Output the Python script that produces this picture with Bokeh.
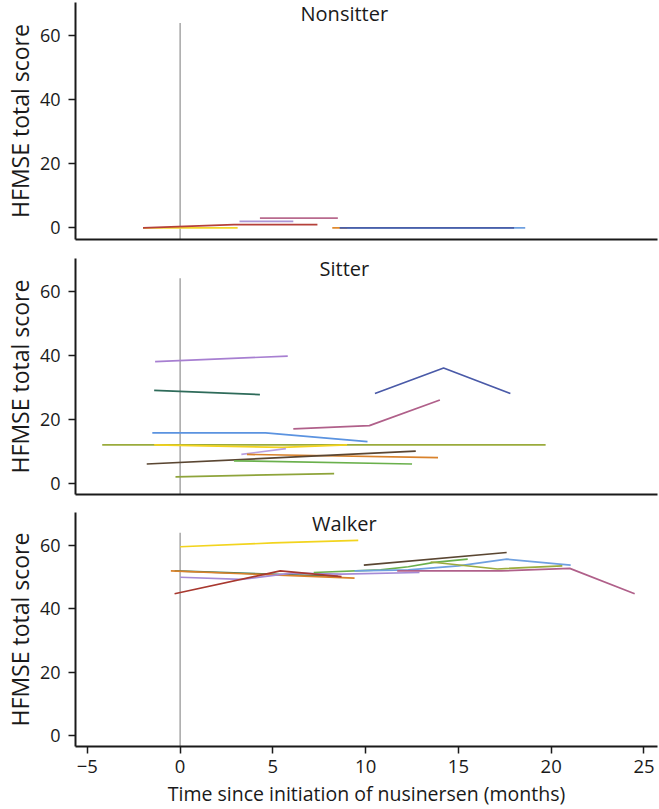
from bokeh.plotting import figure
from bokeh.layouts import column
from bokeh.models import Range1d, FixedTicker, Label
from bokeh.embed import file_html
from bokeh.resources import INLINE

# ---------------- data (months since first nusinersen dose, HFMSE score) ----------------
nonsitter_x = [[-2.0, 3.1], [-2.0, 2.9, 7.4], [3.2, 6.1], [4.3, 8.5],
               [8.6, 18.6], [8.2, 9.0], [8.6, 18.0]]
nonsitter_y = [[0, 0], [0, 1, 1], [2, 2], [3, 3],
               [0, 0], [0, 0], [0, 0]]
nonsitter_colors = ["#f2d52a", "#b5403a", "#ab94d6", "#b86a8e",
                    "#6fa0e0", "#e08a2e", "#4a5fa8"]

sitter_x = [[-1.35, 5.8], [-1.4, 4.3], [-1.5, 4.6, 10.1], [-4.2, 19.7],
            [-1.4, 5.5, 9.0], [3.3, 5.7], [3.6, 13.9], [-1.8, 12.7],
            [2.9, 12.5], [-0.25, 8.3], [6.1, 10.2, 14.0], [10.5, 14.2, 17.8]]
sitter_y = [[38, 39.7], [29, 27.7], [15.7, 15.7, 13], [12, 12],
            [12, 11.2, 12], [9, 10.8], [9, 8], [6, 10],
            [7, 6], [2, 3], [17, 18, 26], [28, 36, 28]]
sitter_colors = ["#a77fd1", "#2e6b5a", "#5b93e0", "#9aab3c",
                 "#f3d31f", "#b9a0e0", "#d9822b", "#5a4632",
                 "#6ab04c", "#8ea43a", "#b0608a", "#4a5aa8"]

walker_x = [[0, 5, 9.6], [-0.3, 8.5], [-0.5, 9.4], [0, 3.3, 6.0, 8.7, 12.9],
            [-0.3, 5.4, 8.7], [7.2, 10.8, 12.3, 13.7, 15.5],
            [9.4, 12.3, 15.0, 17.6, 21.05], [13.5, 17.1, 20.6],
            [9.9, 17.6], [11.7, 17.3, 21.0, 24.5]]
walker_y = [[59.6, 60.8, 61.6], [52, 50.3], [52, 49.7], [50, 49.3, 51.3, 51, 51.5],
            [44.8, 52, 50.2], [51.5, 52.3, 53.3, 54.7, 55.7],
            [52, 52.3, 53.6, 55.7, 53.8], [54.8, 52.6, 53.6],
            [53.8, 57.8], [52, 52, 52.8, 44.8]]
walker_colors = ["#f2d41e", "#3a7a5e", "#d9822b", "#a58ad6",
                 "#a8382f", "#6ab04c", "#6fa0e0", "#9aab3c",
                 "#5a4632", "#b0608a"]

panel_titles = ["Nonsitter", "Sitter", "Walker"]
y_label = "HFMSE total score"
x_label = "Time since initiation of nusinersen (months)"
y_ticks = [0, 20, 40, 60]
x_ticks = [-5, 0, 5, 10, 15, 20, 25]
ref_line_x = 0
ref_line_top = 64

FONT = "Open Sans"
x_range = Range1d(-5.64, 25.73)


def make_panel(title, xs, ys, colors, y_start, y_end, height, bt, bb, show_x):
    p = figure(width=659, height=height, x_range=x_range,
               y_range=Range1d(y_start, y_end),
               output_backend="svg", toolbar_location=None,
               min_border_left=73, min_border_right=2,
               min_border_top=bt, min_border_bottom=bb)
    p.outline_line_color = None
    p.grid.visible = False
    p.background_fill_color = "white"
    p.border_fill_color = "white"

    # reference line at treatment start
    p.segment(x0=[ref_line_x], y0=[y_start], x1=[ref_line_x], y1=[ref_line_top],
              line_color="#a6a6a6", line_width=1.5)

    p.multi_line(xs=xs, ys=ys, line_color=colors, line_width=1.7)

    yax = p.yaxis[0]
    yax.ticker = FixedTicker(ticks=y_ticks)
    yax.axis_label = y_label
    yax.axis_label_text_font = FONT
    yax.axis_label_text_font_size = "23px"
    yax.axis_label_text_font_style = "normal"
    yax.axis_label_text_color = "#1a1a1a"
    yax.axis_label_standoff = 1
    yax.major_label_text_font = FONT
    yax.major_label_text_font_size = "18px"
    yax.major_label_text_color = "#1a1a1a"
    yax.major_label_standoff = 8
    yax.major_tick_out = 7
    yax.major_tick_in = 0
    yax.minor_tick_out = 0
    yax.minor_tick_in = 0
    yax.axis_line_width = 2
    yax.axis_line_color = "#1a1a1a"
    yax.major_tick_line_width = 1.5
    yax.major_tick_line_color = "#1a1a1a"

    xax = p.xaxis[0]
    xax.axis_line_width = 2
    xax.axis_line_color = "#1a1a1a"
    xax.minor_tick_out = 0
    xax.minor_tick_in = 0
    if show_x:
        xax.ticker = FixedTicker(ticks=x_ticks)
        xax.axis_label = x_label
        xax.axis_label_text_font = FONT
        xax.axis_label_text_font_size = "19.5px"
        xax.axis_label_text_font_style = "normal"
        xax.axis_label_text_color = "#1a1a1a"
        xax.axis_label_standoff = 4
        xax.major_label_text_font = FONT
        xax.major_label_text_font_size = "18.5px"
        xax.major_label_text_color = "#1a1a1a"
        xax.major_label_standoff = 6
        xax.major_tick_out = 7
        xax.major_tick_in = 0
        xax.major_tick_line_width = 1.5
        xax.major_tick_line_color = "#1a1a1a"
        xax.major_label_overrides = {v: ("\u22125" if v < 0 else str(v)) for v in x_ticks}
    else:
        xax.ticker = FixedTicker(ticks=[])
        xax.major_tick_out = 0
        xax.major_tick_in = 0
        xax.major_label_standoff = 0
        xax.axis_label_standoff = 0
        xax.major_label_text_font_size = "0px"

    p.add_layout(Label(x=8.85, y=67.0, text=title, text_align="center",
                       text_baseline="middle", text_font=FONT,
                       text_font_size="20px", text_color="#1a1a1a"))
    return p


p1 = make_panel(panel_titles[0], nonsitter_x, nonsitter_y, nonsitter_colors,
                -3.66, 70.4, 249, 2, 10, False)
p2 = make_panel(panel_titles[1], sitter_x, sitter_y, sitter_colors,
                -3.53, 70.2, 254, 9, 9, False)
p3 = make_panel(panel_titles[2], walker_x, walker_y, walker_colors,
                -3.34, 70.4, 306, 9, 61, True)

layout = column(p1, p2, p3, spacing=0)

open("out.html", "w").write(file_html(layout, INLINE))
